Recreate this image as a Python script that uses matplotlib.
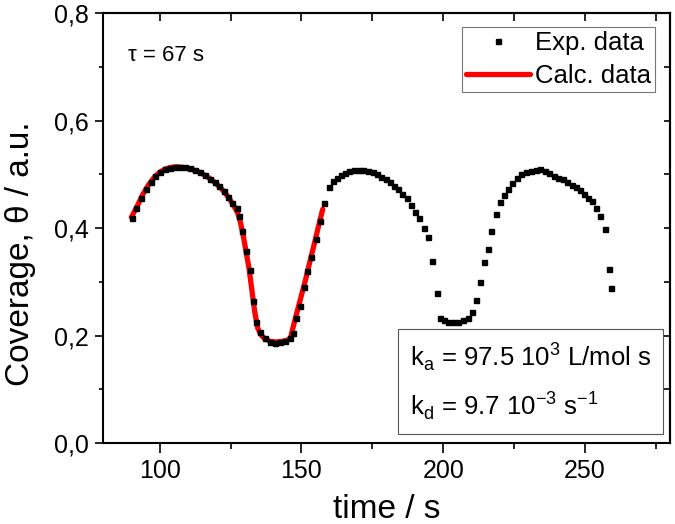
import matplotlib
matplotlib.use("Agg")
import matplotlib.pyplot as plt
from matplotlib.ticker import MultipleLocator, FuncFormatter

plt.rcParams['font.family'] = ['Liberation Sans', 'DejaVu Sans']
plt.rcParams['mathtext.fontset'] = 'custom'
plt.rcParams['mathtext.rm'] = 'Liberation Sans'

# experimental points (time in s, coverage)
exp_t = [90.2, 91.8, 93.3, 95.1, 96.8, 98.5, 100.0, 101.8, 103.5, 105.3, 107.1, 108.8,
         110.6, 112.4, 114.1, 115.9, 117.6, 119.4, 120.9, 122.6, 124.1, 125.5, 127.1, 128.0,
         129.0, 130.5, 131.8, 133.0, 134.1, 135.5, 137.1, 138.8, 140.6, 142.4, 144.1, 145.9,
         147.0, 148.0, 149.4, 150.8, 152.1, 153.5, 155.0, 156.5, 157.9, 159.7, 161.0, 162.4,
         163.9, 165.3, 166.8, 168.6, 170.2, 171.8, 173.5, 175.3, 176.7, 178.2, 179.8, 181.2,
         182.7, 184.1, 185.6, 187.1, 188.6, 190.1, 191.5, 193.2, 194.6, 196.1, 197.9, 198.8,
         200.2, 201.8, 203.5, 205.3, 207.1, 208.6, 210.2, 211.5, 212.9, 214.5, 215.7, 216.8,
         218.6, 220.1, 221.5, 222.9, 224.4, 226.0, 227.4, 229.2, 231.0, 232.7, 234.1, 235.9,
         237.4, 239.1, 240.6, 242.1, 243.8, 245.3, 246.8, 248.2, 249.6, 251.2, 252.4, 253.8,
         255.3, 256.9, 258.6, 259.3]
exp_theta = [0.418, 0.437, 0.455, 0.472, 0.486, 0.497, 0.505, 0.509, 0.512, 0.514, 0.514, 0.513,
             0.511, 0.508, 0.504, 0.499, 0.492, 0.486, 0.478, 0.469, 0.458, 0.447, 0.437, 0.422,
             0.395, 0.357, 0.322, 0.265, 0.225, 0.206, 0.195, 0.188, 0.187, 0.188, 0.190, 0.195,
             0.205, 0.233, 0.254, 0.291, 0.320, 0.347, 0.379, 0.414, 0.446, 0.476, 0.487, 0.494,
             0.499, 0.503, 0.506, 0.508, 0.508, 0.508, 0.507, 0.504, 0.500, 0.495, 0.491, 0.485,
             0.479, 0.472, 0.464, 0.455, 0.443, 0.430, 0.418, 0.401, 0.383, 0.339, 0.280, 0.232,
             0.228, 0.226, 0.225, 0.226, 0.228, 0.233, 0.244, 0.267, 0.300, 0.337, 0.361, 0.394,
             0.427, 0.448, 0.461, 0.473, 0.484, 0.494, 0.500, 0.504, 0.507, 0.508, 0.509, 0.506,
             0.502, 0.497, 0.494, 0.491, 0.486, 0.481, 0.476, 0.470, 0.463, 0.456, 0.450, 0.438,
             0.422, 0.398, 0.324, 0.288]

# calculated curve
calc_t = [90.0, 92.0, 94.0, 96.0, 98.0, 100.0, 102.0, 104.0, 106.0, 108.0, 110.0, 112.0,
          114.0, 116.0, 118.0, 120.0, 122.0, 124.0, 126.0, 127.5, 128.5, 129.5, 130.5, 131.5,
          132.5, 133.5, 134.5, 135.5, 137.0, 139.0, 141.0, 143.0, 145.0, 146.2, 146.8, 147.5,
          148.5, 150.0, 151.5, 153.0, 154.5, 156.0, 157.5]
calc_theta = [0.420, 0.440, 0.462, 0.480, 0.494, 0.504, 0.510, 0.513, 0.514, 0.513, 0.511, 0.508,
              0.504, 0.498, 0.491, 0.482, 0.472, 0.459, 0.443, 0.428, 0.410, 0.385, 0.355, 0.325,
              0.285, 0.245, 0.215, 0.203, 0.194, 0.189, 0.188, 0.189, 0.191, 0.196, 0.210, 0.225,
              0.245, 0.275, 0.305, 0.338, 0.370, 0.403, 0.435]

fig = plt.figure(figsize=(6.75, 5.24), dpi=100)
ax = fig.add_axes([0.1526, 0.1546, 0.84, 0.8204])

ax.plot(calc_t, calc_theta, color="red", lw=3.8, solid_capstyle="round", label="Calc. data", zorder=2)
ax.plot(exp_t, exp_theta, ls="none", marker="s", ms=3.6, color="black", mec="black",
        label="Exp. data", zorder=3)

ax.set_xlim(80, 280)
ax.set_ylim(0, 0.8)
ax.xaxis.set_major_locator(MultipleLocator(50))
ax.xaxis.set_minor_locator(MultipleLocator(25))
ax.yaxis.set_major_locator(MultipleLocator(0.2))
ax.yaxis.set_minor_locator(MultipleLocator(0.1))
ax.yaxis.set_major_formatter(FuncFormatter(lambda v, p: ("%.1f" % v).replace(".", ",")))

for sp in ax.spines.values():
    sp.set_linewidth(1.5)
ax.tick_params(which="both", direction="out", width=1.2, labelsize=18, top=False, right=False)
ax.tick_params(axis="x", which="major", length=7.5, pad=4)
ax.tick_params(axis="x", which="minor", length=4)
ax.tick_params(axis="y", which="major", length=6, pad=4)
ax.tick_params(axis="y", which="minor", length=3)

# mirrored ticks pointing inward on top and right
top = ax.secondary_xaxis("top")
top.xaxis.set_major_locator(MultipleLocator(50))
top.xaxis.set_minor_locator(MultipleLocator(25))
top.tick_params(which="both", direction="in", width=1.2, labeltop=False, length=5.5)
top.spines["top"].set_linewidth(1.5)
right = ax.secondary_yaxis("right")
right.yaxis.set_major_locator(MultipleLocator(0.2))
right.yaxis.set_minor_locator(MultipleLocator(0.1))
right.tick_params(which="both", direction="in", width=1.2, labelright=False, length=4)
right.spines["right"].set_linewidth(1.5)

ax.set_xlabel("time / s", fontsize=24, labelpad=8)
ax.set_ylabel("Coverage, θ / a.u.", fontsize=24)
ax.yaxis.set_label_coords(-0.118, 0.44)

ax.text(0.044, 0.902, "τ = 67 s", transform=ax.transAxes, fontsize=16, va="center")

handles, labels = ax.get_legend_handles_labels()
leg = ax.legend(handles[::-1], labels[::-1], loc="upper right", bbox_to_anchor=(0.9735, 0.9674),
                fontsize=18.5, frameon=True, fancybox=False, handlelength=2.5, handletextpad=0.2,
                borderpad=0.15, labelspacing=0.35, borderaxespad=0, markerscale=1.0)
leg.get_frame().set_edgecolor("#555555")
leg.get_frame().set_linewidth(0.8)

box_text = ("k$_\\mathregular{a}$ = 97.5 10$^\\mathregular{3}$ L/mol s\n"
            "k$_\\mathregular{d}$ = 9.7 10$^\\mathregular{-3}$ s$^\\mathregular{-1}$")
ax.text(0.541, 0.048, box_text, transform=ax.transAxes, fontsize=18.5, va="bottom", ha="left",
        linespacing=1.65,
        bbox=dict(boxstyle="square,pad=0.45", fc="white", ec="#555555", lw=0.8))

fig.savefig("out.png", dpi=100)
